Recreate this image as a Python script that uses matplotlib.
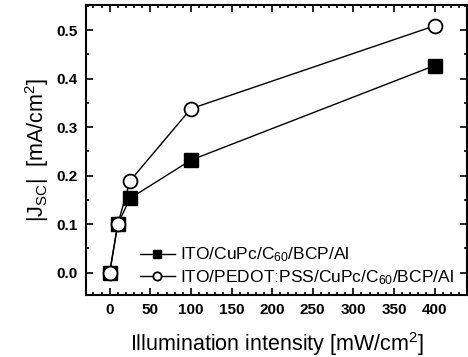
import matplotlib
matplotlib.use("Agg")
import matplotlib.pyplot as plt
from matplotlib.ticker import MultipleLocator

# Data
intensity = [0, 10, 25, 100, 400]            # mW/cm^2
jsc_plain = [0.0, 0.10, 0.153, 0.232, 0.427]  # ITO/CuPc/C60/BCP/Al
jsc_pedot = [0.0, 0.10, 0.189, 0.338, 0.509]  # ITO/PEDOT:PSS/CuPc/C60/BCP/Al

labels = ["ITO/CuPc/C$_{60}$/BCP/Al", "ITO/PEDOT:PSS/CuPc/C$_{60}$/BCP/Al"]

plt.rcParams['font.family'] = ['Liberation Sans', 'DejaVu Sans']
plt.rcParams['mathtext.fontset'] = 'custom'
plt.rcParams['mathtext.rm'] = 'Liberation Sans'
plt.rcParams['mathtext.it'] = 'Liberation Sans'

fig = plt.figure(figsize=(4.68, 3.57), dpi=100)
ax = fig.add_axes([0.184, 0.174, 0.814, 0.812])

ax.plot(intensity, jsc_plain, '-', color='black', lw=1.0, marker='s', ms=9.5,
        mfc='black', mec='black', label=labels[0], zorder=3)
ax.plot(intensity, jsc_pedot, '-', color='black', lw=1.0, marker='o', ms=10,
        mfc='white', mec='black', mew=1.3, label=labels[1], zorder=4)

ax.set_xlim(-29, 440)
ax.set_ylim(-0.046, 0.552)
ax.xaxis.set_major_locator(MultipleLocator(50))
ax.xaxis.set_minor_locator(MultipleLocator(10))
ax.yaxis.set_major_locator(MultipleLocator(0.1))
ax.yaxis.set_minor_locator(MultipleLocator(0.05))
ax.yaxis.set_major_formatter(matplotlib.ticker.FormatStrFormatter('%.1f'))

ax.tick_params(which='both', direction='in', top=True, right=True, width=1.2)
ax.tick_params(which='major', length=5, labelsize=11, pad=6)
ax.tick_params(which='minor', length=2.5)
for s in ax.spines.values():
    s.set_linewidth(1.5)
for t in ax.get_xticklabels() + ax.get_yticklabels():
    t.set_fontweight('bold')

ax.set_xlabel("Illumination intensity [mW/cm$^2$]", fontsize=15.5, labelpad=9)
ax.set_ylabel("|J$_{SC}$|  [mA/cm$^2$]", fontsize=15.5, labelpad=4)

ax.legend(loc='lower left', bbox_to_anchor=(0.10, -0.025), frameon=False,
          fontsize=12.5, handlelength=2.0, handletextpad=0.3, labelspacing=0.2,
          markerscale=0.6)

fig.savefig("out.png", dpi=100)
